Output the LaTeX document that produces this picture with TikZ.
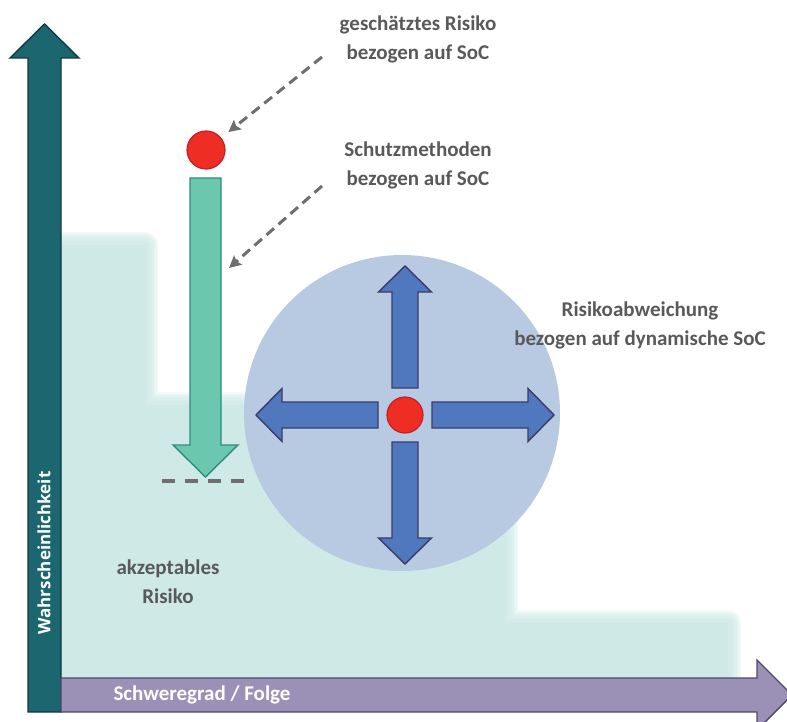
\documentclass[tikz,border=0pt]{standalone}
\usepackage{fontspec}
\setmainfont{Carlito}
\newfontfamily\probfont{Open Sans}
\usetikzlibrary{arrows.meta}

\definecolor{axisteal}{HTML}{1C6670}
\definecolor{axistealdark}{HTML}{0E3A40}
\definecolor{axispurple}{HTML}{9B90B5}
\definecolor{axispurpledark}{HTML}{4F4770}
\definecolor{acceptteal}{HTML}{CFE9E7}
\definecolor{shaftgreen}{HTML}{6CC7AF}
\definecolor{shaftgreendark}{HTML}{2B8E7C}
\definecolor{cloudblue}{HTML}{B8C9E2}
\definecolor{pushblue}{HTML}{5078BE}
\definecolor{pushbluedark}{HTML}{3D3A67}
\definecolor{riskred}{HTML}{EE2D24}
\definecolor{riskreddark}{HTML}{C41E2A}
\definecolor{notegray}{HTML}{595959}
\definecolor{hintgray}{HTML}{6E6E6E}

\begin{document}
\begin{tikzpicture}[x=1pt,y=-1pt,
  infotext/.style={font=\bfseries\fontsize{21}{29}\selectfont, text=notegray, align=center},
  axistext/.style={font=\bfseries\fontsize{21}{25}\selectfont, text=white},
  riskdot/.style={circle, fill=riskred, draw=riskreddark, line width=1.2pt, inner sep=0pt},
  pushto/.style={fill=pushblue, draw=pushbluedark, line width=1.4pt, line join=miter},
  hint/.style={draw=hintgray, line width=3pt, dash pattern=on 10pt off 6pt,
    -{Stealth[length=12pt,width=12pt,inset=2pt]}}]
  \useasboundingbox (0,0) rectangle (787,722);

  % acceptable risk area, soft edge
  \foreach \w in {26,23,...,2}
    \draw[acceptteal, line width=\w pt, opacity=0.24, line join=round]
      (61,245) -- (145,245) -- (145,405) -- (505,405) -- (505,623)
      -- (728,623) -- (728,678) -- (61,678) -- cycle;
  \fill[acceptteal] (61,245) -- (145,245) -- (145,405) -- (505,405) -- (505,623)
    -- (728,623) -- (728,678) -- (61,678) -- cycle;

  % dynamic deviation around the risk
  \fill[cloudblue] (402,413) circle (158);

  % protection methods
  \draw[fill=shaftgreen, draw=shaftgreendark, line width=1.4pt]
    (190,178) -- (221,178) -- (221,445) -- (238,445) -- (205.5,477)
    -- (173,445) -- (190,445) -- cycle;
  \draw[hintgray, line width=3.5pt, dash pattern=on 13pt off 10pt] (162,481) -- (248,481);

  % Y axis
  \draw[fill=axisteal, draw=axistealdark, line width=1.4pt]
    (28,712) -- (28,58) -- (10,58) -- (44.5,24) -- (79,58) -- (61,58) -- (61,712) -- cycle;
  \node[axistext, font=\probfont\bfseries\fontsize{17}{20}\selectfont, rotate=90] (problabel)
    at (44,553) {Wahrscheinlichkeit};

  % X axis
  \draw[fill=axispurple, draw=axispurpledark, line width=1.4pt]
    (61,678) -- (757,678) -- (757,660) -- (792,695) -- (757,730) -- (757,712) -- (61,712) -- cycle;
  \node[axistext, anchor=west] (sevlabel) at (110,695) {Schweregrad / Folge};

  % four directions of deviation
  \foreach \a in {0,90,180,270}
    \draw[pushto, shift={(405,415)}, rotate=\a]
      (27,-13) -- (123,-13) -- (123,-26.5) -- (149,0) -- (123,26.5) -- (123,13) -- (27,13) -- cycle;

  % risks
  \node[riskdot, minimum size=38pt] (risk) at (206,150) {};
  \node[riskdot, minimum size=36pt] (driftrisk) at (405,415) {};

  % notes
  \node[infotext] (estimate) at (418,39) {geschätztes Risiko\\bezogen auf SoC};
  \node[infotext] (methods) at (418,165) {Schutzmethoden\\bezogen auf SoC};
  \node[infotext] (deviation) at (640,325) {Risikoabweichung\\bezogen auf dynamische SoC};
  \node[infotext] (accepted) at (168,582) {akzeptables\\Risiko};

  % hints
  \coordinate (esttail) at (322,57);
  \coordinate (methtail) at (322,186);
  \coordinate (shafttip) at (229,268);
  \draw[hint, shorten >=9pt] (esttail) -- (risk);
  \draw[hint] (methtail) -- (shafttip);
\end{tikzpicture}
\end{document}
